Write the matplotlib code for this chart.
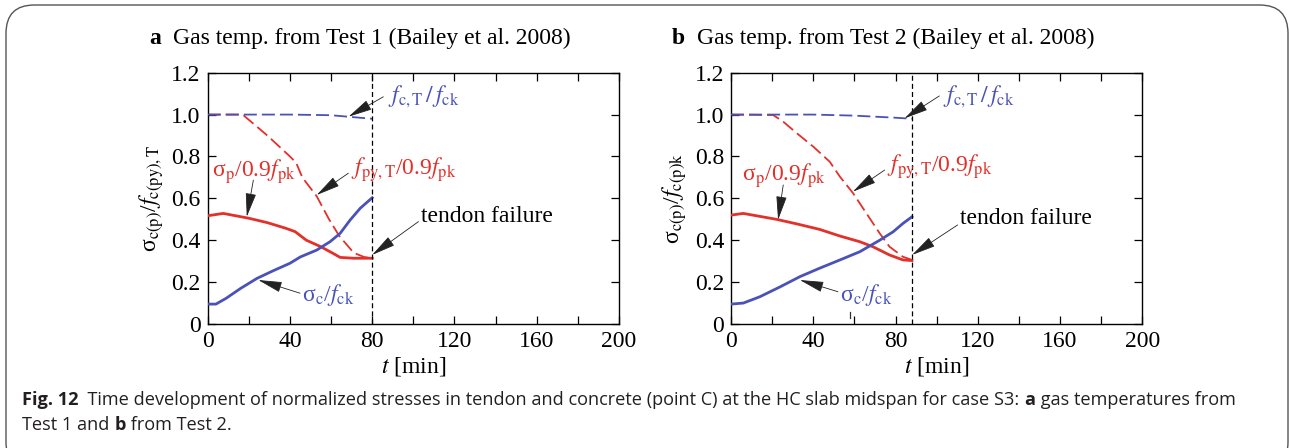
import matplotlib
matplotlib.use("Agg")
import matplotlib.pyplot as plt
from matplotlib.patches import FancyBboxPatch

plt.rcParams['font.family'] = ['Liberation Serif', 'DejaVu Serif']
plt.rcParams['mathtext.fontset'] = 'stix'

# ---------------- data ----------------
# Panel a (Test 1)
t_a_fpy = [0, 10, 17, 29, 40, 43, 46, 53, 59, 64, 71, 76, 80]
fpy_a = [1.0, 1.0, 1.0, 0.90, 0.80, 0.77, 0.70, 0.61, 0.50, 0.42, 0.34, 0.32, 0.314]
t_a_sp = [0, 7.6, 20, 29, 38, 42.5, 48, 55, 61, 64.4, 71, 80]
sp_a = [0.517, 0.528, 0.505, 0.484, 0.457, 0.441, 0.40, 0.369, 0.337, 0.318, 0.314, 0.314]
t_a_sc = [0, 4, 9, 16, 24, 32, 40, 45, 53, 59.5, 64.4, 69.3, 74.2, 80]
sc_a = [0.095, 0.095, 0.123, 0.17, 0.218, 0.255, 0.29, 0.32, 0.353, 0.393, 0.433, 0.497, 0.553, 0.603]
t_a_fc = [0, 40, 60, 68, 80]
fc_a = [1.0, 1.0, 0.997, 0.99, 0.98]
fail_a = 80

# Panel b (Test 2)
t_b_fpy = [0, 20.5, 25.4, 32, 40, 48, 53, 59.4, 65.8, 72.3, 77.1, 83.6, 88]
fpy_b = [1.0, 0.998, 0.966, 0.911, 0.847, 0.775, 0.703, 0.624, 0.529, 0.433, 0.369, 0.321, 0.306]
t_b_sp = [0, 6, 22, 32, 43, 53, 62.6, 69, 77, 83.6, 88]
sp_b = [0.52, 0.528, 0.50, 0.478, 0.452, 0.42, 0.393, 0.369, 0.33, 0.306, 0.303]
t_b_sc = [0, 6, 14, 24, 33.5, 43, 53, 62.6, 72.3, 78.8, 83.6, 88]
sc_b = [0.095, 0.1, 0.13, 0.178, 0.226, 0.266, 0.306, 0.345, 0.40, 0.44, 0.48, 0.512]
t_b_fc = [0, 40, 60, 80, 88]
fc_b = [1.0, 1.0, 0.995, 0.985, 0.98]
fail_b = 88

x_ticks = [0, 40, 80, 120, 160, 200]
x_minor = [20, 60, 100, 140, 180]
y_ticks = [0, 0.2, 0.4, 0.6, 0.8, 1.0, 1.2]
y_ticklabels = ['0', '0.2', '0.4', '0.6', '0.8', '1.0', '1.2']

titles = ['Gas temp. from Test 1 (Bailey et al. 2008)', 'Gas temp. from Test 2 (Bailey et al. 2008)']
letters = ['a', 'b']
ylabels = [r'σ$_{\mathrm{c(p)}}$/$f_{\mathrm{c(py),T}}$', r'σ$_{\mathrm{c(p)}}$/$f_{\mathrm{c(p)k}}$']

RED = '#e2302a'
BLUE = '#4a52b8'
FS = 17
DASH = (0, (7.2, 2.8))

fig = plt.figure(figsize=(12.9, 4.48), dpi=100)

# rounded border
fig.patches.append(FancyBboxPatch((6 / 1290, -0.05), (1288 - 6) / 1290, (1 - 5 / 448) + 0.05,
                                  boxstyle='round,pad=0,rounding_size=0.022',
                                  transform=fig.transFigure, fill=False, ec='#555555', lw=1.0,
                                  mutation_aspect=1290 / 448))

axes_pos = [[207.7 / 1290, 1 - 324 / 448, 411.3 / 1290, 251.3 / 448],
            [731 / 1290, 1 - 324 / 448, 411.3 / 1290, 251.3 / 448]]

panels = [
    (t_a_fpy, fpy_a, t_a_sp, sp_a, t_a_sc, sc_a, t_a_fc, fc_a, fail_a),
    (t_b_fpy, fpy_b, t_b_sp, sp_b, t_b_sc, sc_b, t_b_fc, fc_b, fail_b),
]

ann = [
    # (text, color, text xy, line start xy, tip xy)
    [
        (r'$f_{\mathrm{c,T}}\,/\,f_{\mathrm{ck}}$', BLUE, (87.5, 1.085), (85.4, 1.085), (68.5, 0.99)),
        (r'σ$_{\mathrm{p}}$/0.9$f_{\mathrm{pk}}$', RED, (2.0, 0.727), (22.2, 0.687), (19.0, 0.512)),
        (r'$f_{\mathrm{py,T}}$/0.9$f_{\mathrm{pk}}$', RED, (69.5, 0.735), (68.4, 0.72), (53.0, 0.616)),
        ('tendon failure', 'black', (103.5, 0.512), (102.5, 0.489), (80.0, 0.33)),
        (r'σ$_{\mathrm{c}}$/$f_{\mathrm{ck}}$', BLUE, (45.8, 0.138), (44.9, 0.147), (24.6, 0.21)),
    ],
    [
        (r'$f_{\mathrm{c,T}}\,/\,f_{\mathrm{ck}}$', BLUE, (103.0, 1.085), (101.3, 1.089), (84.4, 0.982)),
        (r'σ$_{\mathrm{p}}$/0.9$f_{\mathrm{pk}}$', RED, (5.2, 0.71), (25.4, 0.664), (22.9, 0.497)),
        (r'$f_{\mathrm{py,T}}$/0.9$f_{\mathrm{pk}}$', RED, (75.8, 0.751), (74.7, 0.735), (59.3, 0.632)),
        ('tendon failure', 'black', (111.2, 0.505), (110.2, 0.473), (88.1, 0.33)),
        (r'σ$_{\mathrm{c}}$/$f_{\mathrm{ck}}$', BLUE, (52.8, 0.138), (52.0, 0.154), (33.5, 0.21)),
    ],
]

for i, (tf, f, ts, s, tc, c, tfc, fc, fail) in enumerate(panels):
    ax = fig.add_axes(axes_pos[i])
    ax.plot(tf, f, color=RED, lw=1.3, ls=DASH, zorder=2)
    ax.plot(tfc, fc, color=BLUE, lw=1.3, ls=DASH, zorder=3)
    ax.plot(ts, s, color=RED, lw=2.0, zorder=4)
    ax.plot(tc, c, color=BLUE, lw=2.0, zorder=4)
    ax.axvline(fail, color='black', lw=0.9, ls=(0, (4, 2.5)), zorder=5)

    ax.set_xlim(0, 200)
    ax.set_ylim(0, 1.2)
    ax.set_xticks(x_ticks)
    ax.set_xticks(x_minor, minor=True)
    ax.set_yticks(y_ticks)
    ax.set_yticklabels(y_ticklabels)
    ax.tick_params(which='both', direction='in', top=True, right=True, length=6, width=0.9,
                   labelsize=FS, pad=5)
    for sp in ax.spines.values():
        sp.set_linewidth(1.0)
    ax.set_xlabel(r'$t$ [min]', fontsize=FS, labelpad=2)
    ax.set_ylabel(ylabels[i], fontsize=FS, labelpad=4)

    for (txt, col, txy, lstart, tip) in ann[i]:
        ax.text(txy[0], txy[1], txt, color=col, fontsize=FS, ha='left', va='center', zorder=6)
        ax.annotate('', xy=tip, xytext=lstart,
                    arrowprops=dict(arrowstyle='-|>,head_length=1.5,head_width=0.33',
                                    color='#222222', lw=0.6, shrinkA=0, shrinkB=0), zorder=6)

    # panel title
    cx = (axes_pos[i][0] + axes_pos[i][2] / 2)
    fig.text(cx - 0.205, 1 - 38 / 448, letters[i], fontsize=FS, fontweight='bold',
             ha='left', va='center')
    fig.text(cx - 0.205 + 0.019, 1 - 38 / 448, titles[i], fontsize=FS, ha='left', va='center')

# small artifact tick in panel b
fig.lines.append(plt.Line2D([850 / 1290, 850 / 1290], [1 - 318 / 448, 1 - 312 / 448],
                            transform=fig.transFigure, color='#333333', lw=0.9))

# caption
cap_font = ['Open Sans', 'DejaVu Sans']
CFS = 13.1
cy1 = 1 - 405 / 448
cy2 = 1 - 430 / 448
CC = '#231f20'
p1 = fig.text(22 / 1290, cy1, 'Fig. 12', family=cap_font, fontsize=CFS, fontweight='bold',
              color=CC, va='baseline')
p2 = plt.annotate('  Time development of normalized stresses in tendon and concrete (point C) at the HC slab midspan for case S3: ',
                  xy=(1, 0), xycoords=p1, va='bottom', ha='left', family=cap_font, fontsize=CFS, color=CC,
                  annotation_clip=False)
p3 = plt.annotate('a', xy=(1, 0), xycoords=p2, va='bottom', ha='left', family=cap_font,
                  fontsize=CFS, fontweight='bold', color=CC, annotation_clip=False)
p4 = plt.annotate(' gas temperatures from', xy=(1, 0), xycoords=p3, va='bottom', ha='left',
                  family=cap_font, fontsize=CFS, color=CC, annotation_clip=False)
q1 = fig.text(22 / 1290, cy2, 'Test 1 and ', family=cap_font, fontsize=CFS, color=CC, va='baseline')
q2 = plt.annotate('b', xy=(1, 0), xycoords=q1, va='bottom', ha='left', family=cap_font,
                  fontsize=CFS, fontweight='bold', color=CC, annotation_clip=False)
q3 = plt.annotate(' from Test 2.', xy=(1, 0), xycoords=q2, va='bottom', ha='left',
                  family=cap_font, fontsize=CFS, color=CC, annotation_clip=False)

fig.savefig('out.png', dpi=100)
